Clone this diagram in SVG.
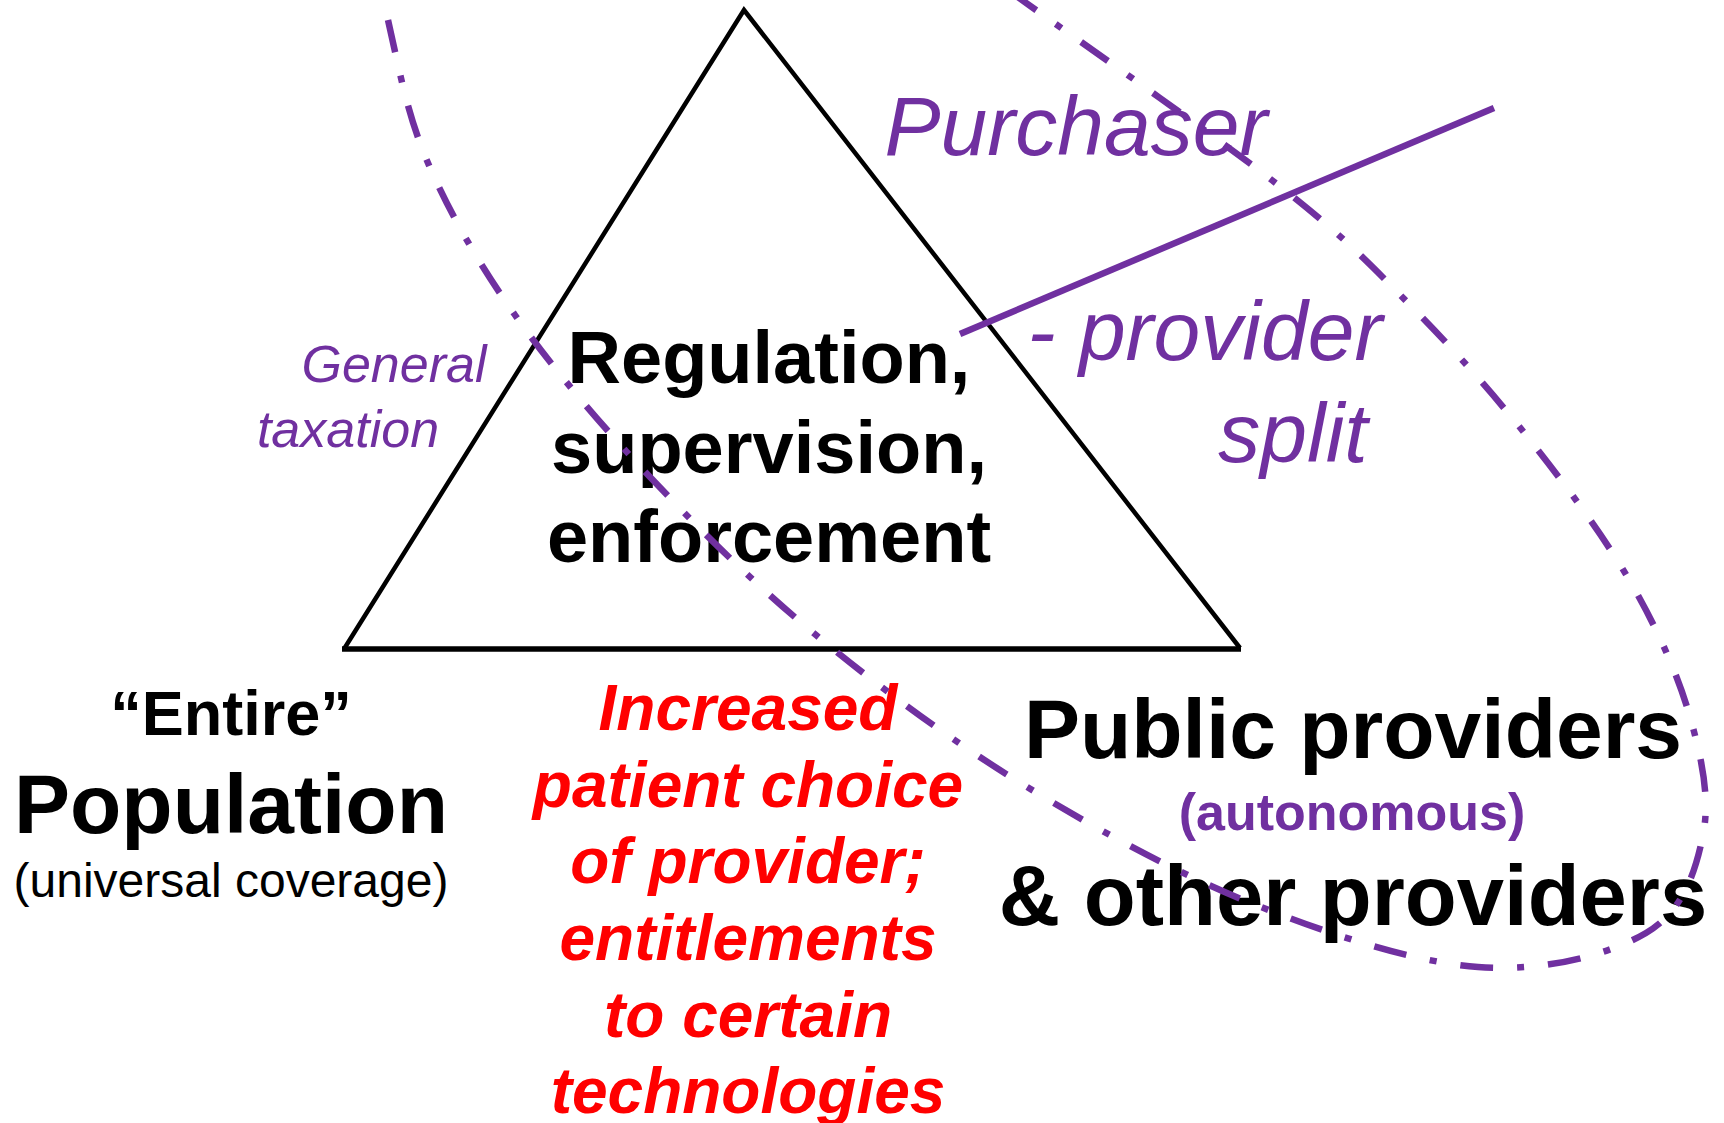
<svg xmlns="http://www.w3.org/2000/svg" width="1724" height="1123" viewBox="0 0 1724 1123">
<style>
text{font-family:"Liberation Sans",Arial,sans-serif}
.pur{fill:#7030A0;font-style:italic}
.blk{fill:#000;font-weight:bold}
.red{fill:#FF0000;font-weight:bold;font-style:italic;font-size:64px}
.mid{text-anchor:middle}
</style>
<rect width="1724" height="1123" fill="#fff"/>
<g id="triangle">
<path d="M344,649 L744,10 L1240,648" fill="none" stroke="#000" stroke-width="4.5"/>
<line x1="342" y1="649" x2="1241" y2="649" stroke="#000" stroke-width="5.5"/>
</g>
<g id="regulation">
<text class="blk mid" x="769" y="383" font-size="74">Regulation,</text>
<text class="blk mid" x="769" y="473" font-size="74">supervision,</text>
<text class="blk mid" x="769" y="562" font-size="74">enforcement</text>
</g>
<g id="population">
<text class="blk mid" x="231" y="735" font-size="63">“Entire”</text>
<text class="blk mid" x="231" y="833" font-size="84">Population</text>
<text class="mid" x="231" y="897" font-size="48" fill="#000">(universal coverage)</text>
</g>
<g id="providers">
<text class="blk mid" x="1353" y="758" font-size="84">Public providers</text>
<text class="mid" x="1352" y="830" font-size="52" fill="#7030A0" font-weight="bold">(autonomous)</text>
<text class="blk mid" x="1353" y="925" font-size="85">&amp; other providers</text>
</g>
<g id="choice">
<text class="red mid" x="748" y="730">Increased</text>
<text class="red mid" x="748" y="807">patient choice</text>
<text class="red mid" x="748" y="883">of provider;</text>
<text class="red mid" x="748" y="960">entitlements</text>
<text class="red mid" x="748" y="1037">to certain</text>
<text class="red mid" x="748" y="1113">technologies</text>
</g>
<g id="taxation">
<text class="pur mid" x="394" y="382" font-size="52">General</text>
<text class="pur mid" x="348" y="447" font-size="52">taxation</text>
</g>
<g id="split-label">
<text class="pur mid" x="1076" y="155" font-size="84">Purchaser</text>
<text class="pur mid" x="1205" y="360" font-size="84">- provider</text>
<text class="pur mid" x="1293" y="462" font-size="84">split</text>
</g>
<g id="connectors" fill="none" stroke="#7030A0">
<line x1="960" y1="334" x2="1494" y2="108" stroke-width="6.5"/>
<path stroke-width="6.5" stroke-dasharray="33 24 7 24" d="M388,20 C399,68 406.8,113.8 428,163 C449.2,212.2 478,262.7 515,315 C552,367.3 599.8,423.7 650,477 C700.2,530.3 754.5,584.2 816,635 C877.5,685.8 946.5,737.3 1019,782 C1091.5,826.7 1174.5,872.2 1251,903 C1327.5,933.8 1412.2,962 1478,967 C1543.8,972 1608.5,955 1646,933 C1683.5,911 1695.7,871 1703,835 C1710.3,799 1702,759 1690,717 C1678,675 1657.7,629.2 1631,583 C1604.3,536.8 1566.3,485.8 1530,440 C1493.7,394.2 1454.3,350 1413,308 C1371.7,266 1348.3,240.2 1282,188 C1215.7,135.8 1059.5,27.2 1015,-5"/>
</g>
</svg>
